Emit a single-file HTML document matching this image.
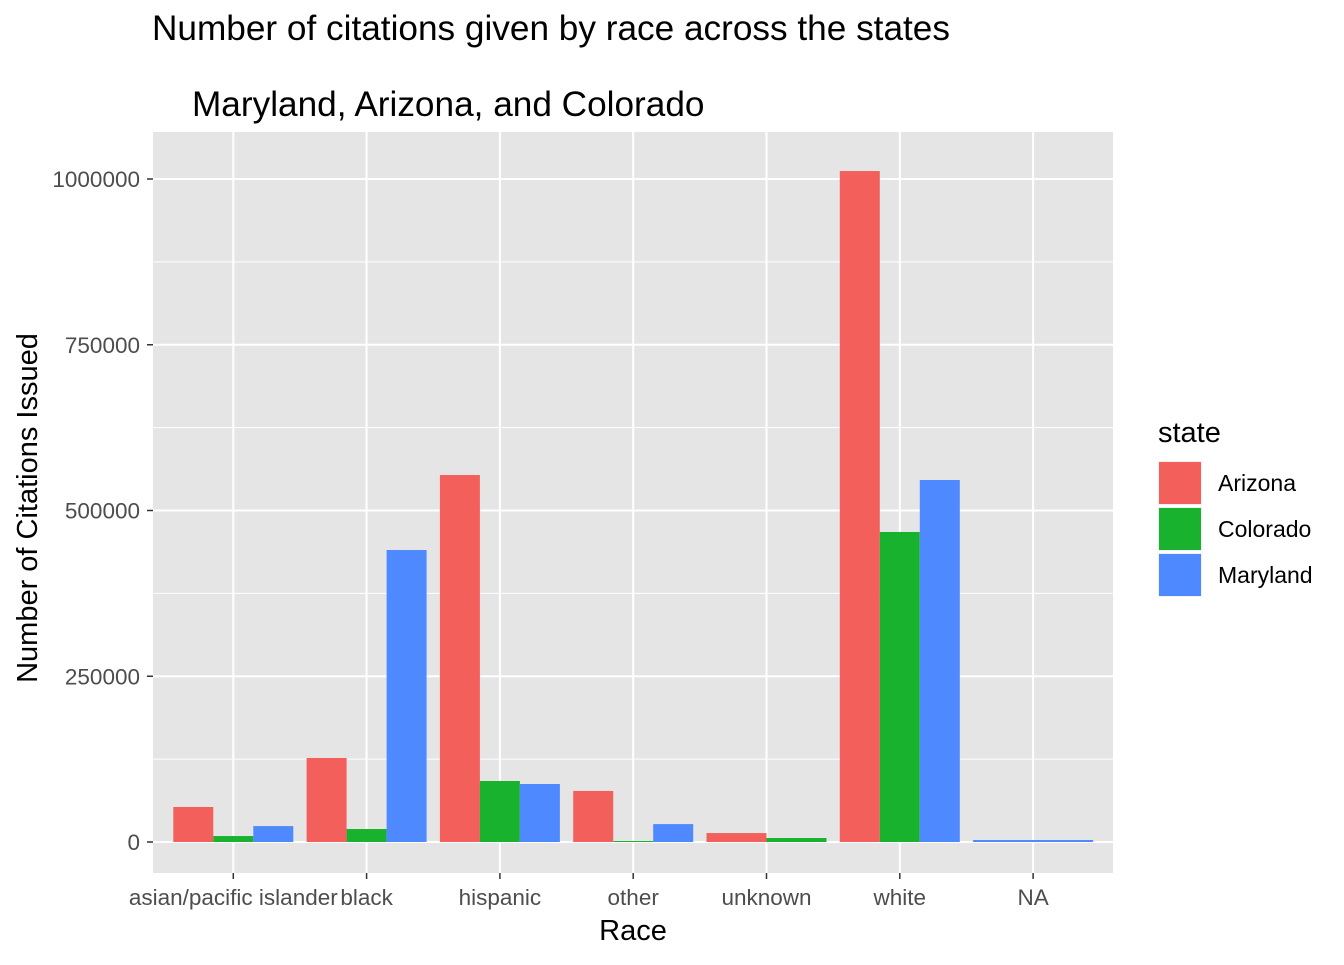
<!DOCTYPE html>
<html><head><meta charset="utf-8"><style>
body{margin:0;background:#fff;}
svg text{font-family:"Liberation Sans",Arial,sans-serif;}
</style></head><body>
<svg id="chart" width="1344" height="960" xmlns="http://www.w3.org/2000/svg">
<text x="152" y="40" font-size="35.2" fill="#000">Number of citations given by race across the states</text>
<text x="192" y="116" font-size="35.2" fill="#000">Maryland, Arizona, and Colorado</text>
<rect x="153" y="132" width="960" height="741" fill="#E5E5E5"/>
<g id="grid"></g><g id="bars"></g><g id="axes"></g>
<text x="633" y="940" font-size="29" text-anchor="middle">Race</text>
<text transform="translate(37,508) rotate(-90)" font-size="29" text-anchor="middle">Number of Citations Issued</text>
<g>
<text x="1158" y="442" font-size="29">state</text>
<g id="legend"></g>
</g>
</svg>
<script>
const categories=["asian/pacific islander","black","hispanic","other","unknown","white","NA"];
const states=["Arizona","Colorado","Maryland"];
const colors=["#F35F5B","#19B22F","#4F89FF"];
const arizona=[52800,126700,553500,77000,13500,1012000,null];
const colorado=[9000,19600,92000,1500,6000,467600,null];
const maryland=[24000,440400,87500,27000,null,546000,3000];
const yTicks=[0,250000,500000,750000,1000000];
const yTickLabels=["0","250000","500000","750000","1000000"];
const series=[arizona,colorado,maryland];
const NS="http://www.w3.org/2000/svg";
const y=v=>842-v*663/1000000;
const xc=i=>233.3+i*133.3;
function mk(t,a,p){const e=document.createElementNS(NS,t);for(const k in a)e.setAttribute(k,a[k]);p.appendChild(e);return e;}
const grid=document.getElementById('grid'),bars=document.getElementById('bars'),axes=document.getElementById('axes');
for(let i=0;i<yTicks.length;i++){
 if(i>0){const m=(yTicks[i]+yTicks[i-1])/2;const l=mk('line',{x1:153,x2:1113,y1:y(m),y2:y(m),stroke:'#fff','stroke-width':1},grid);
 
 }
 const l=mk('line',{x1:153,x2:1113,y1:y(yTicks[i]),y2:y(yTicks[i]),stroke:'#fff','stroke-width':2},grid);
 
 
 const t=mk('text',{x:140,y:y(yTicks[i])+8,'font-size':22.5,fill:'#4D4D4D','text-anchor':'end'},axes);t.textContent=yTickLabels[i];
 
 
 mk('line',{x1:147,x2:153,y1:y(yTicks[i]),y2:y(yTicks[i]),stroke:'#333','stroke-width':1.5},axes);
}
categories.forEach((c,i)=>{
 const l=mk('line',{x1:xc(i),x2:xc(i),y1:132,y2:873,stroke:'#fff','stroke-width':2},grid);
 
 
 mk('line',{x1:xc(i),x2:xc(i),y1:873,y2:879,stroke:'#333','stroke-width':1.5},axes);
 const t=mk('text',{x:xc(i),y:905,'font-size':22.5,fill:'#4D4D4D','text-anchor':'middle'},axes);t.textContent=c;
 
 
 const present=series.map((s,k)=>k).filter(k=>series[k][i]!==null);
 const groupW=120;
 const w=groupW/present.length;
 present.forEach((k,j)=>{
  const v=series[k][i];
  const x0=xc(i)-groupW/2+j*w;
  const r=mk('rect',{x:x0,y:y(v),width:w,height:Math.max(0,842-y(v)),fill:colors[k]},bars);
  
  
 });
});
const lg=document.getElementById('legend');
states.forEach((s,k)=>{
 const yy=461+k*46;
 mk('rect',{x:1158,y:yy,width:44,height:44,fill:'#F2F2F2'},lg);
 const r=mk('rect',{x:1159,y:yy+1,width:42,height:42,fill:colors[k]},lg);
 
 
 const t=mk('text',{x:1218,y:yy+30,'font-size':23,fill:'#000'},lg);t.textContent=s;
 
 
});
</script>
</body></html>
